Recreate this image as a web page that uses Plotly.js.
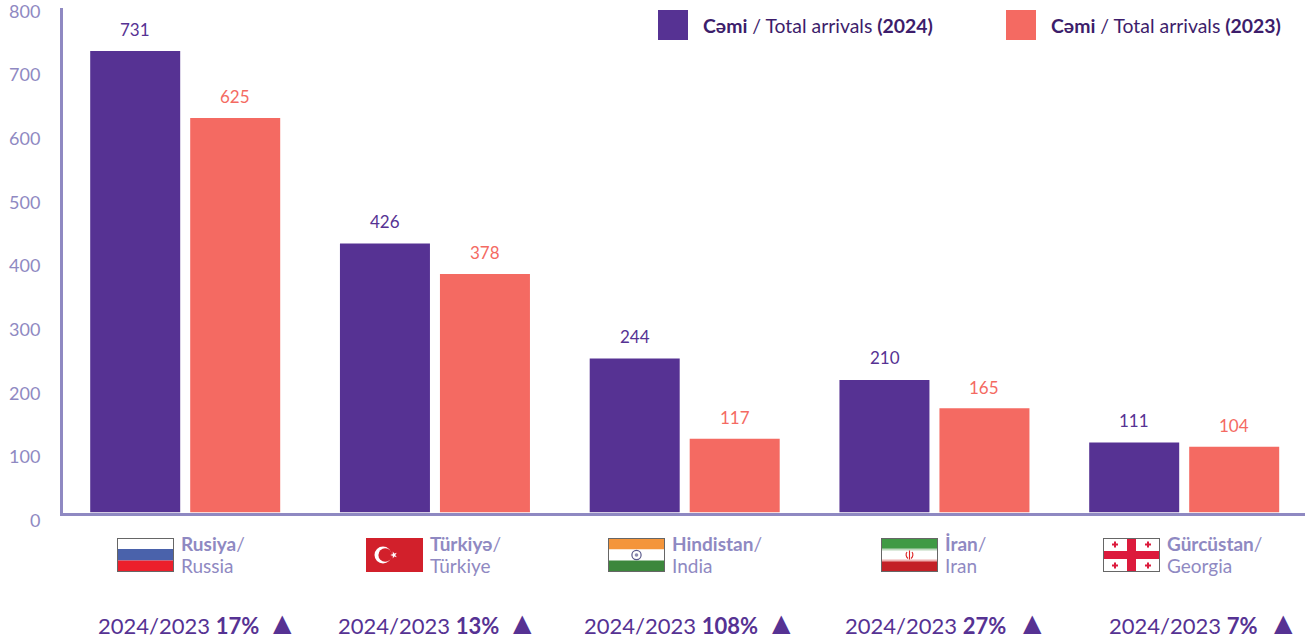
<!DOCTYPE html>
<html><head><meta charset="utf-8">
<script src="https://cdn.plot.ly/plotly-3.0.1.min.js"></script>
<style>html,body{margin:0;padding:0;background:#fff}#c{width:1305px;height:640px}</style></head>
<body><div id="c"></div>
<script>
const categories = ["Rusiya","Türkiyə","Hindistan","İran","Gürcüstan"];
const englishNames = ["Russia","Türkiye","India","Iran","Georgia"];
const values2024 = [731,426,244,210,111];
const values2023 = [625,378,117,165,104];
const changes = ["17%","13%","108%","27%","7%"];
const yTicks = [0,100,200,300,400,500,600,700,800];

const W=1305,H=640;
const PURPLE="#563293",CORAL="#f46a62",AXIS="#8f89c2",DARK="#3d1d6b";
const FONT="Lato, 'Open Sans', sans-serif";
const px=v=>v/W, py=v=>1-v/H;

const svg=s=>"data:image/svg+xml;charset=utf-8,"+encodeURIComponent(`<svg xmlns="http://www.w3.org/2000/svg" viewBox="0 0 57 34" preserveAspectRatio="none">${s}</svg>`);
const frame='<rect x="0.5" y="0.5" width="56" height="33" fill="none" stroke="#666" stroke-width="1"/>';
const flags=[
 svg(`<rect width="57" height="34" fill="#fff"/><rect y="11" width="57" height="11.5" fill="#4a62ab"/><rect y="22.5" width="57" height="11.5" fill="#ec1f2b"/>${frame}`),
 svg(`<rect width="57" height="34" fill="#d2202b"/><circle cx="17" cy="17" r="8.5" fill="#fff"/><circle cx="19.2" cy="17" r="6.8" fill="#d2202b"/><path d="M24.2 17l6.6-2.3-4 5.7v-6.8l4 5.7z" fill="#fff"/>`),
 svg(`<rect width="57" height="11.5" fill="#f4953b"/><rect y="11.5" width="57" height="11" fill="#fff"/><rect y="22.5" width="57" height="11.5" fill="#3c873c"/><circle cx="28.5" cy="17" r="4.6" fill="none" stroke="#5a5a8c" stroke-width="1.2"/><circle cx="28.5" cy="17" r="1.8" fill="#8a8ab0"/>${frame}`),
 svg(`<rect width="57" height="11.5" fill="#3f9a44"/><rect y="11.5" width="57" height="11" fill="#fff"/><rect y="22.5" width="57" height="11.5" fill="#c32026"/><rect y="10.5" width="57" height="2" fill="#bcd8bc"/><rect y="21.5" width="57" height="2" fill="#eeb0b0"/><path d="M28.5 12.5v9M26 14c-1.6 2-1 5 1 6.5M31 14c1.6 2 1 5-1 6.5" stroke="#d22" stroke-width="1.1" fill="none"/>${frame}`),
 svg(`<rect width="57" height="34" fill="#fff"/><rect x="24" width="9" height="34" fill="#dc1a3c"/><rect y="13" width="57" height="8" fill="#dc1a3c"/><path d="M12 3.5v6M9 6.5h6M45 3.5v6M42 6.5h6M12 24.5v6M9 27.5h6M45 24.5v6M42 27.5h6" stroke="#dc1a3c" stroke-width="2"/>${frame}`)
];
const flagLeft=[117,366,608,881,1103];
const nameLeft=[180,429,671,944,1166];
const changeLeft=[97,337,583,844,1108];
const triCenter=[282,522,781,1032,1283];

const annotations=[];
const note=(x,y,text,size,color,extra)=>annotations.push(Object.assign({xref:"paper",yref:"paper",x:px(x),y:py(y),text,showarrow:false,xanchor:"left",yanchor:"middle",align:"left",borderpad:0,font:{family:FONT,size,color}},extra||{}));

categories.forEach((c,i)=>{
  annotations.push({xref:"x",yref:"y",x:i-0.2,y:values2024[i],yshift:22,text:String(values2024[i]),showarrow:false,font:{family:FONT,size:17,color:PURPLE}});
  annotations.push({xref:"x",yref:"y",x:i+0.2,y:values2023[i],yshift:21,text:String(values2023[i]),showarrow:false,font:{family:FONT,size:17,color:CORAL}});
  note(nameLeft[i],543.5,`<b>${c}</b>/`,19,AXIS);
  note(nameLeft[i],565.5,englishNames[i],19,AXIS);
  note(changeLeft[i],625,`2024/2023 <b>${changes[i]}</b>`,22,PURPLE);
  note(triCenter[i],623,"▲",23,PURPLE,{xanchor:"center",font:{family:"DejaVu Sans",size:24,color:PURPLE}});
});
note(702,25,"<b>Cəmi</b> / Total arrivals <b>(2024)</b>",19.4,DARK);
note(1050,25,"<b>Cəmi</b> / Total arrivals <b>(2023)</b>",19.4,DARK);

const swatch=(x,color)=>({type:"rect",xref:"paper",yref:"paper",x0:px(x),x1:px(x+30),y0:py(40),y1:py(10),fillcolor:color,line:{width:0}});

const plotLeft=63,plotBottom=512.5,plotTop=7.5;
const xScale=249.75,xZero=185.2;

const data=[
 {type:"bar",name:"Cəmi / Total arrivals (2024)",x:categories,y:values2024,marker:{color:PURPLE},hoverinfo:"x+y"},
 {type:"bar",name:"Cəmi / Total arrivals (2023)",x:categories,y:values2023,marker:{color:CORAL},hoverinfo:"x+y"},
 {type:"scatter",mode:"markers",x:[categories[0],categories[0]],y:[yTicks[0],yTicks[yTicks.length-1]],yaxis:"y2",marker:{opacity:0},showlegend:false,hoverinfo:"skip"}
];
const layout={
 width:W,height:H,margin:{l:0,r:0,t:0,b:0},paper_bgcolor:"#fff",plot_bgcolor:"rgba(0,0,0,0)",
 barmode:"group",bargap:0.1992,bargroupgap:0.1,showlegend:false,
 xaxis:{type:"category",domain:[px(plotLeft),1],range:[-(xZero-plotLeft)/xScale,(W-xZero)/xScale],showticklabels:false,ticks:"",showgrid:false,zeroline:false,showline:true,linecolor:AXIS,linewidth:2.5},
 yaxis:{domain:[py(plotBottom),py(plotTop)],range:[0,800],showticklabels:false,ticks:"",showgrid:false,zeroline:false,showline:true,linecolor:AXIS,linewidth:2.5},
 yaxis2:{domain:[py(520.5),py(11.5)],range:[0,800],anchor:"x",side:"left",tickmode:"array",tickvals:yTicks,showgrid:false,zeroline:false,showline:false,ticks:"outside",ticklen:18,tickcolor:"rgba(0,0,0,0)",ticklabeloverflow:"allow",tickfont:{family:FONT,size:18,color:AXIS}},
 annotations,
 shapes:[swatch(658,PURPLE),swatch(1006,CORAL)],
 images:flags.map((source,i)=>({source,xref:"paper",yref:"paper",x:px(flagLeft[i]),y:py(538),sizex:57/W,sizey:34/H,sizing:"stretch",xanchor:"left",yanchor:"top",layer:"above"}))
};
Plotly.newPlot("c",data,layout,{displayModeBar:false,responsive:false});
</script></body></html>
